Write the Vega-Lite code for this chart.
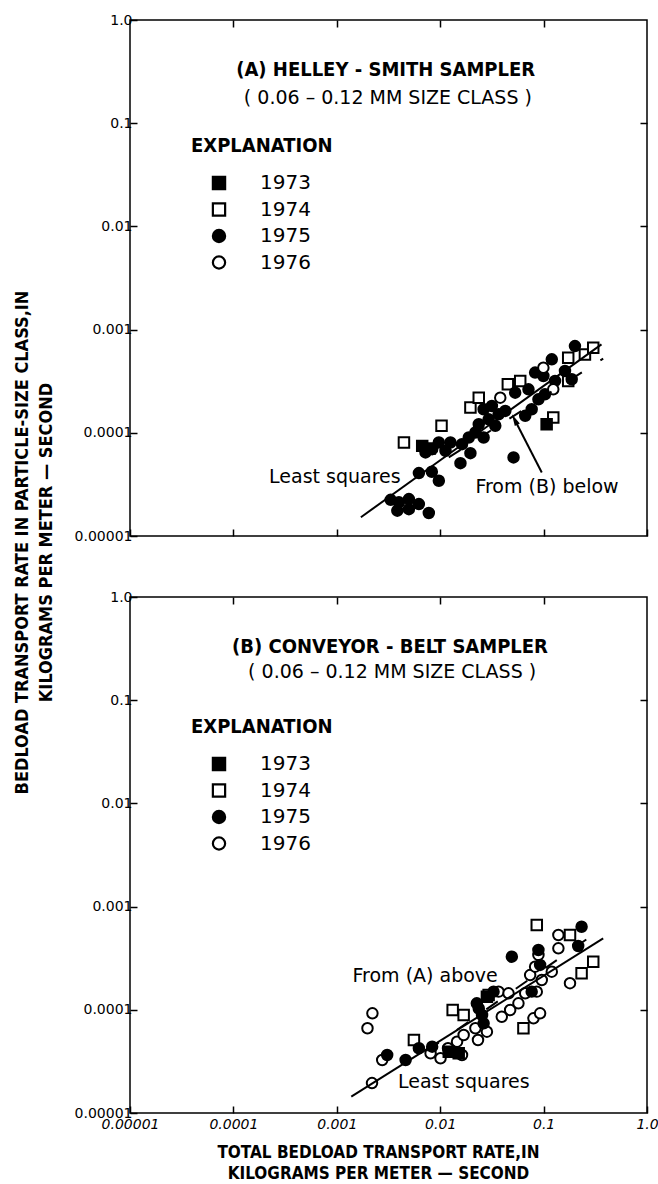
{
  "$schema": "https://vega.github.io/schema/vega-lite/v6.json",
  "padding": {"left": 12, "top": 12, "right": 0, "bottom": 0},
  "background": "white",
  "bounds": "flush",
  "spacing": 61,
  "config": {
    "view": {"stroke": "black", "strokeWidth": 1.5},
    "axis": {"grid": false, "domain": false, "tickColor": "black", "tickWidth": 1.5, "tickSize": -7, "labelColor": "black", "labelFont": "DejaVu Sans", "labelFontSize": 14, "labelFlush": false, "labelOverlap": false, "labelBound": false, "titleColor": "black", "titleFont": "DejaVu Sans Condensed", "titleFontWeight": "bold", "titleFontSize": 17},
    "legend": {"orient": "none", "legendX": 61, "legendY": 116, "titleFont": "DejaVu Sans Condensed", "titleFontWeight": "bold", "titleFontSize": 20, "titleColor": "black", "titlePadding": 17, "labelFont": "DejaVu Sans", "labelFontSize": 20, "labelColor": "black", "symbolSize": 150, "symbolStrokeWidth": 2.2, "symbolStrokeColor": "black", "symbolOffset": 18, "labelOffset": 31, "rowPadding": 4.5, "padding": 0}
  },
  "datasets": {
    "ptsA": [
      {"year": "1974", "x": 0.00446, "y": 8.05e-5},
      {"year": "1974", "x": 0.0103, "y": 1.17e-4},
      {"year": "1974", "x": 0.0196, "y": 1.76e-4},
      {"year": "1974", "x": 0.0236, "y": 2.19e-4},
      {"year": "1974", "x": 0.0451, "y": 2.95e-4},
      {"year": "1974", "x": 0.0594, "y": 3.18e-4},
      {"year": "1974", "x": 0.173, "y": 5.35e-4},
      {"year": "1974", "x": 0.251, "y": 5.75e-4},
      {"year": "1974", "x": 0.302, "y": 6.68e-4},
      {"year": "1974", "x": 0.173, "y": 3.18e-4},
      {"year": "1974", "x": 0.124, "y": 1.41e-4},
      {"year": "1973", "x": 0.0067, "y": 7.47e-5},
      {"year": "1973", "x": 0.00794, "y": 7.05e-5},
      {"year": "1973", "x": 0.107, "y": 1.21e-4},
      {"year": "1975", "x": 0.00332, "y": 2.24e-5},
      {"year": "1975", "x": 0.00399, "y": 2.12e-5},
      {"year": "1975", "x": 0.00498, "y": 2.28e-5},
      {"year": "1975", "x": 0.00622, "y": 2.04e-5},
      {"year": "1975", "x": 0.00385, "y": 1.76e-5},
      {"year": "1975", "x": 0.00498, "y": 1.82e-5},
      {"year": "1975", "x": 0.00776, "y": 1.67e-5},
      {"year": "1975", "x": 0.00622, "y": 4.07e-5},
      {"year": "1975", "x": 0.0083, "y": 4.19e-5},
      {"year": "1975", "x": 0.0097, "y": 3.43e-5},
      {"year": "1975", "x": 0.00836, "y": 6.94e-5},
      {"year": "1975", "x": 0.0097, "y": 8.05e-5},
      {"year": "1975", "x": 0.01256, "y": 8.05e-5},
      {"year": "1975", "x": 0.01125, "y": 6.68e-5},
      {"year": "1975", "x": 0.00721, "y": 6.45e-5},
      {"year": "1975", "x": 0.0157, "y": 5.08e-5},
      {"year": "1975", "x": 0.0196, "y": 6.35e-5},
      {"year": "1975", "x": 0.0512, "y": 5.77e-5},
      {"year": "1975", "x": 0.01625, "y": 7.76e-5},
      {"year": "1975", "x": 0.0189, "y": 9.0e-5},
      {"year": "1975", "x": 0.0219, "y": 1.007e-4},
      {"year": "1975", "x": 0.0263, "y": 9.0e-5},
      {"year": "1975", "x": 0.0236, "y": 1.21e-4},
      {"year": "1975", "x": 0.0294, "y": 1.35e-4},
      {"year": "1975", "x": 0.0263, "y": 1.69e-4},
      {"year": "1975", "x": 0.0316, "y": 1.82e-4},
      {"year": "1975", "x": 0.0367, "y": 1.51e-4},
      {"year": "1975", "x": 0.0426, "y": 1.63e-4},
      {"year": "1975", "x": 0.0664, "y": 1.46e-4},
      {"year": "1975", "x": 0.0767, "y": 1.69e-4},
      {"year": "1975", "x": 0.0891, "y": 2.11e-4},
      {"year": "1975", "x": 0.103, "y": 2.36e-4},
      {"year": "1975", "x": 0.0828, "y": 3.83e-4},
      {"year": "1975", "x": 0.0995, "y": 3.55e-4},
      {"year": "1975", "x": 0.12, "y": 5.15e-4},
      {"year": "1975", "x": 0.201, "y": 6.92e-4},
      {"year": "1975", "x": 0.161, "y": 3.97e-4},
      {"year": "1975", "x": 0.187, "y": 3.3e-4},
      {"year": "1975", "x": 0.0341, "y": 1.17e-4},
      {"year": "1975", "x": 0.0531, "y": 2.45e-4},
      {"year": "1975", "x": 0.0714, "y": 2.64e-4},
      {"year": "1975", "x": 0.129, "y": 3.18e-4},
      {"year": "1976", "x": 0.0381, "y": 2.19e-4},
      {"year": "1976", "x": 0.0995, "y": 4.28e-4},
      {"year": "1976", "x": 0.124, "y": 2.64e-4}
    ],
    "ptsB": [
      {"year": "1976", "x": 0.00221, "y": 9.25e-5},
      {"year": "1976", "x": 0.00198, "y": 6.62e-5},
      {"year": "1976", "x": 0.00275, "y": 3.26e-5},
      {"year": "1976", "x": 0.00807, "y": 3.79e-5},
      {"year": "1976", "x": 0.01007, "y": 3.39e-5},
      {"year": "1976", "x": 0.01625, "y": 3.65e-5},
      {"year": "1976", "x": 0.01455, "y": 4.91e-5},
      {"year": "1976", "x": 0.01686, "y": 5.7e-5},
      {"year": "1976", "x": 0.0219, "y": 6.62e-5},
      {"year": "1976", "x": 0.0232, "y": 5.1e-5},
      {"year": "1976", "x": 0.0283, "y": 6.14e-5},
      {"year": "1976", "x": 0.0394, "y": 8.57e-5},
      {"year": "1976", "x": 0.0475, "y": 9.95e-5},
      {"year": "1976", "x": 0.0571, "y": 1.156e-4},
      {"year": "1976", "x": 0.0367, "y": 1.5e-4},
      {"year": "1976", "x": 0.0458, "y": 1.445e-4},
      {"year": "1976", "x": 0.0798, "y": 8.27e-5},
      {"year": "1976", "x": 0.0925, "y": 9.25e-5},
      {"year": "1976", "x": 0.0664, "y": 1.445e-4},
      {"year": "1976", "x": 0.0859, "y": 1.5e-4},
      {"year": "1976", "x": 0.096, "y": 1.945e-4},
      {"year": "1976", "x": 0.12, "y": 2.34e-4},
      {"year": "1976", "x": 0.0741, "y": 2.17e-4},
      {"year": "1976", "x": 0.0828, "y": 2.62e-4},
      {"year": "1976", "x": 0.0891, "y": 3.4e-4},
      {"year": "1976", "x": 0.139, "y": 3.94e-4},
      {"year": "1976", "x": 0.139, "y": 5.31e-4},
      {"year": "1976", "x": 0.18, "y": 1.81e-4},
      {"year": "1976", "x": 0.0119, "y": 4.24e-5},
      {"year": "1976", "x": 0.00219, "y": 1.95e-5},
      {"year": "1974", "x": 0.0859, "y": 6.64e-4},
      {"year": "1974", "x": 0.18, "y": 5.31e-4},
      {"year": "1974", "x": 0.302, "y": 2.92e-4},
      {"year": "1974", "x": 0.233, "y": 2.26e-4},
      {"year": "1974", "x": 0.0638, "y": 6.62e-5},
      {"year": "1974", "x": 0.0132, "y": 9.95e-5},
      {"year": "1974", "x": 0.01686, "y": 8.91e-5},
      {"year": "1974", "x": 0.00557, "y": 5.1e-5},
      {"year": "1974", "x": 0.0294, "y": 1.39e-4},
      {"year": "1975", "x": 0.0493, "y": 3.27e-4},
      {"year": "1975", "x": 0.0891, "y": 3.8e-4},
      {"year": "1975", "x": 0.0925, "y": 2.72e-4},
      {"year": "1975", "x": 0.233, "y": 6.38e-4},
      {"year": "1975", "x": 0.216, "y": 4.15e-4},
      {"year": "1975", "x": 0.0236, "y": 1.03e-4},
      {"year": "1975", "x": 0.0254, "y": 8.91e-5},
      {"year": "1975", "x": 0.0263, "y": 7.4e-5},
      {"year": "1975", "x": 0.0328, "y": 1.5e-4},
      {"year": "1975", "x": 0.00463, "y": 3.26e-5},
      {"year": "1975", "x": 0.00307, "y": 3.65e-5},
      {"year": "1975", "x": 0.00836, "y": 4.39e-5},
      {"year": "1975", "x": 0.00622, "y": 4.24e-5},
      {"year": "1975", "x": 0.0767, "y": 1.5e-4},
      {"year": "1975", "x": 0.0226, "y": 1.156e-4},
      {"year": "1973", "x": 0.0121, "y": 3.93e-5},
      {"year": "1973", "x": 0.0151, "y": 3.79e-5},
      {"year": "1973", "x": 0.0283, "y": 1.34e-4}
    ],
    "lsA": [{"x": 0.00171, "y": 1.52e-5}, {"x": 0.363, "y": 7.19e-4}],
    "dashA": [{"x": 0.0121, "y": 5.77e-5}, {"x": 0.377, "y": 5.23e-4}],
    "lsB": [{"x": 0.00138, "y": 1.44e-5}, {"x": 0.377, "y": 4.93e-4}],
    "dashB": [{"x": 0.0075, "y": 4.02e-5}, {"x": 0.35, "y": 5.93e-4}]
  },
  "resolve": {
    "scale": {"x": "independent", "y": "independent", "shape": "independent", "fill": "independent", "stroke": "independent"},
    "legend": {"shape": "independent", "fill": "independent", "stroke": "independent"},
    "axis": {"x": "independent", "y": "independent"}
  },
  "vconcat": [
    {
      "width": 517,
      "height": 516,
      "resolve": {"axis": {"x": "independent", "y": "independent"}},
      "layer": [
        {
          "data": {"name": "ptsA"},
          "mark": {"type": "point", "filled": true, "strokeWidth": 2, "size": 110, "opacity": 1},
          "encoding": {
            "x": {"field": "x", "type": "quantitative", "scale": {"type": "log", "domain": [0.00001, 1], "nice": false},
                  "axis": {"orient": "bottom", "labels": false, "title": null, "values": [0.00001, 0.0001, 0.001, 0.01, 0.1, 1]}},
            "y": {"field": "y", "type": "quantitative", "scale": {"type": "log", "domain": [0.00001, 1], "nice": false},
                  "axis": {"orient": "left", "values": [0.00001, 0.0001, 0.001, 0.01, 0.1, 1], "labelPadding": 5, "labelFontSize": 14, "labelFont": "DejaVu Sans", "labelColor": "black",
                           "labelExpr": "datum.value >= 1 ? '1.0' : format(datum.value, '.' + round(-log(datum.value)/LN10) + 'f')",
                           "title": ["BEDLOAD TRANSPORT RATE IN PARTICLE-SIZE CLASS,IN", "KILOGRAMS PER METER — SECOND"],
                           "titleFontSize": 18, "titleFont": "DejaVu Sans Condensed", "titleFontWeight": "bold",
                           "titleX": -117, "titleY": 522, "titleAngle": 270, "titleBaseline": "top", "titleAlign": "center", "titleLineHeight": 24}},
            "shape": {"field": "year", "type": "nominal", "title": "EXPLANATION",
                      "scale": {"domain": ["1973", "1974", "1975", "1976"], "range": ["square", "square", "circle", "circle"]}},
            "fill": {"field": "year", "type": "nominal", "title": "EXPLANATION",
                     "scale": {"domain": ["1973", "1974", "1975", "1976"], "range": ["black", "white", "black", "white"]}},
            "stroke": {"field": "year", "type": "nominal", "title": "EXPLANATION",
                       "scale": {"domain": ["1973", "1974", "1975", "1976"], "range": ["black", "black", "black", "black"]}}
          }
        },
        {
          "data": {"name": "lsA"},
          "mark": {"type": "line", "color": "black", "strokeWidth": 2},
          "encoding": {
            "x": {"field": "x", "type": "quantitative", "axis": {"orient": "top", "labels": false, "title": null, "values": [0.0001, 0.001, 0.01, 0.1]}},
            "y": {"field": "y", "type": "quantitative", "axis": {"orient": "right", "labels": false, "title": null, "values": [0.0001, 0.001, 0.01, 0.1]}}
          }
        },
        {
          "data": {"name": "dashA"},
          "mark": {"type": "line", "color": "black", "strokeWidth": 2, "strokeDash": [14, 22]},
          "encoding": {
            "x": {"field": "x", "type": "quantitative", "axis": null},
            "y": {"field": "y", "type": "quantitative", "axis": null}
          }
        },
        {
          "data": {"values": [{}]},
          "mark": {"type": "text", "text": "(A) HELLEY - SMITH SAMPLER", "font": "DejaVu Sans Condensed", "fontWeight": "bold", "fontSize": 20, "align": "center", "baseline": "middle", "color": "black"},
          "encoding": {"x": {"datum": 0.00297, "type": "quantitative", "axis": null}, "y": {"datum": 0.331, "type": "quantitative", "axis": null}}
        },
        {
          "data": {"values": [{}]},
          "mark": {"type": "text", "text": "( 0.06 – 0.12 MM SIZE CLASS )", "font": "DejaVu Sans", "fontSize": 19, "align": "center", "baseline": "middle", "color": "black"},
          "encoding": {"x": {"datum": 0.00312, "type": "quantitative", "axis": null}, "y": {"datum": 0.177, "type": "quantitative", "axis": null}}
        },
        {
          "data": {"values": [{}]},
          "mark": {"type": "text", "text": "Least squares", "font": "DejaVu Sans", "fontSize": 19, "align": "right", "baseline": "middle", "color": "black"},
          "encoding": {"x": {"datum": 0.00415, "type": "quantitative", "axis": null}, "y": {"datum": 3.75e-5, "type": "quantitative", "axis": null}}
        },
        {
          "data": {"values": [{}]},
          "mark": {"type": "text", "text": "From (B) below", "font": "DejaVu Sans", "fontSize": 19, "align": "left", "baseline": "middle", "color": "black"},
          "encoding": {"x": {"datum": 0.0219, "type": "quantitative", "axis": null}, "y": {"datum": 2.96e-5, "type": "quantitative", "axis": null}}
        },
        {
          "data": {"values": [{}]},
          "mark": {"type": "rule", "color": "black", "strokeWidth": 2},
          "encoding": {
            "x": {"datum": 0.096, "type": "quantitative", "axis": null}, "y": {"datum": 4.13e-5, "type": "quantitative", "axis": null},
            "x2": {"datum": 0.053}, "y2": {"datum": 1.318e-4}
          }
        },
        {
          "data": {"values": [{}]},
          "mark": {"type": "point", "shape": "M0,-1L0.4,0.7L-0.4,0.7Z", "filled": true, "color": "black", "size": 196, "angle": -27, "opacity": 1},
          "encoding": {"x": {"datum": 0.053, "type": "quantitative", "axis": null}, "y": {"datum": 1.318e-4, "type": "quantitative", "axis": null}}
        }
      ]
    },
    {
      "width": 517,
      "height": 516,
      "resolve": {"axis": {"x": "independent", "y": "independent"}},
      "layer": [
        {
          "data": {"name": "ptsB"},
          "mark": {"type": "point", "filled": true, "strokeWidth": 2, "size": 110, "opacity": 1},
          "encoding": {
            "x": {"field": "x", "type": "quantitative", "scale": {"type": "log", "domain": [0.00001, 1], "nice": false},
                  "axis": {"orient": "bottom", "values": [0.00001, 0.0001, 0.001, 0.01, 0.1, 1], "labelPadding": 11, "labelFontStyle": "italic", "labelFontSize": 14, "labelFont": "DejaVu Sans", "labelColor": "black",
                           "labelExpr": "datum.value >= 1 ? '1.0' : format(datum.value, '.' + round(-log(datum.value)/LN10) + 'f')",
                           "title": ["TOTAL BEDLOAD TRANSPORT RATE,IN", "KILOGRAMS PER METER — SECOND"],
                           "titleFontSize": 17, "titleFont": "DejaVu Sans Condensed", "titleFontWeight": "bold",
                           "titleX": 248, "titleY": 31, "titleBaseline": "top", "titleAlign": "center", "titleLineHeight": 21}},
            "y": {"field": "y", "type": "quantitative", "scale": {"type": "log", "domain": [0.00001, 1], "nice": false},
                  "axis": {"orient": "left", "values": [0.00001, 0.0001, 0.001, 0.01, 0.1, 1], "labelPadding": 5, "title": null, "labelFontSize": 14, "labelFont": "DejaVu Sans", "labelColor": "black",
                           "labelExpr": "datum.value >= 1 ? '1.0' : format(datum.value, '.' + round(-log(datum.value)/LN10) + 'f')"}},
            "shape": {"field": "year", "type": "nominal", "title": "EXPLANATION",
                      "scale": {"domain": ["1973", "1974", "1975", "1976"], "range": ["square", "square", "circle", "circle"]},
                      "legend": {"legendY": 120}},
            "fill": {"field": "year", "type": "nominal", "title": "EXPLANATION",
                     "scale": {"domain": ["1973", "1974", "1975", "1976"], "range": ["black", "white", "black", "white"]},
                     "legend": {"legendY": 120}},
            "stroke": {"field": "year", "type": "nominal", "title": "EXPLANATION",
                       "scale": {"domain": ["1973", "1974", "1975", "1976"], "range": ["black", "black", "black", "black"]},
                       "legend": {"legendY": 120}}
          }
        },
        {
          "data": {"name": "lsB"},
          "mark": {"type": "line", "color": "black", "strokeWidth": 2},
          "encoding": {
            "x": {"field": "x", "type": "quantitative", "axis": {"orient": "top", "labels": false, "title": null, "values": [0.0001, 0.001, 0.01, 0.1]}},
            "y": {"field": "y", "type": "quantitative", "axis": {"orient": "right", "labels": false, "title": null, "values": [0.0001, 0.001, 0.01, 0.1]}}
          }
        },
        {
          "data": {"name": "dashB"},
          "mark": {"type": "line", "color": "black", "strokeWidth": 2, "strokeDash": [14, 22]},
          "encoding": {
            "x": {"field": "x", "type": "quantitative", "axis": null},
            "y": {"field": "y", "type": "quantitative", "axis": null}
          }
        },
        {
          "data": {"values": [{}]},
          "mark": {"type": "text", "text": "(B) CONVEYOR - BELT SAMPLER", "font": "DejaVu Sans Condensed", "fontWeight": "bold", "fontSize": 20, "align": "center", "baseline": "middle", "color": "black"},
          "encoding": {"x": {"datum": 0.00327, "type": "quantitative", "axis": null}, "y": {"datum": 0.331, "type": "quantitative", "axis": null}}
        },
        {
          "data": {"values": [{}]},
          "mark": {"type": "text", "text": "( 0.06 – 0.12 MM SIZE CLASS )", "font": "DejaVu Sans", "fontSize": 19, "align": "center", "baseline": "middle", "color": "black"},
          "encoding": {"x": {"datum": 0.00343, "type": "quantitative", "axis": null}, "y": {"datum": 0.188, "type": "quantitative", "axis": null}}
        },
        {
          "data": {"values": [{}]},
          "mark": {"type": "text", "text": "From (A) above", "font": "DejaVu Sans", "fontSize": 19, "align": "left", "baseline": "middle", "color": "black"},
          "encoding": {"x": {"datum": 0.00142, "type": "quantitative", "axis": null}, "y": {"datum": 2.13e-4, "type": "quantitative", "axis": null}}
        },
        {
          "data": {"values": [{}]},
          "mark": {"type": "text", "text": "Least squares", "font": "DejaVu Sans", "fontSize": 19, "align": "left", "baseline": "middle", "color": "black"},
          "encoding": {"x": {"datum": 0.00391, "type": "quantitative", "axis": null}, "y": {"datum": 2.01e-5, "type": "quantitative", "axis": null}}
        }
      ]
    }
  ]
}
